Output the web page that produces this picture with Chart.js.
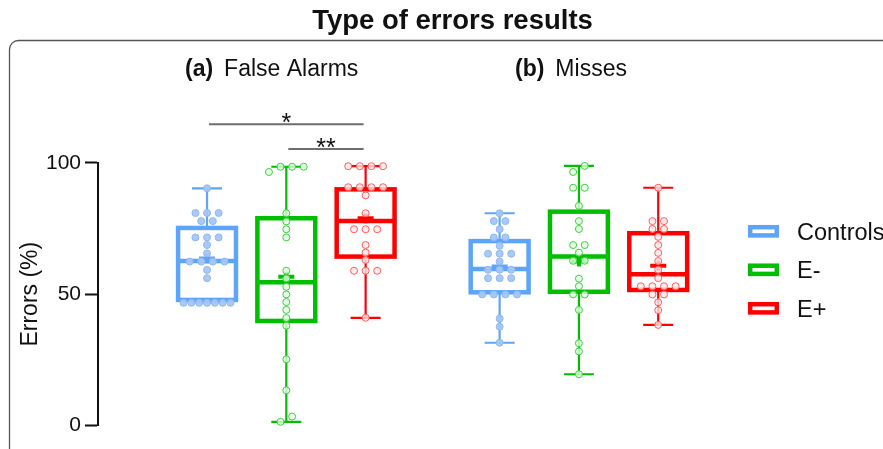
<!DOCTYPE html>
<html>
<head>
<meta charset="utf-8">
<title>Type of errors results</title>
<script src="https://cdn.jsdelivr.net/npm/chart.js@4.4.1/dist/chart.umd.min.js"></script>
<style>
  html, body { margin: 0; padding: 0; background: #ffffff; }
  #chart { display: block; }
</style>
</head>
<body>
<canvas id="chart" width="883" height="449"></canvas>
<script>
// ---- data ----
const groups = ['Controls', 'E-', 'E+'];
const panels = ['False Alarms', 'Misses'];
const panelTags = ['(a)', '(b)'];
const yTicks = [0, 50, 100];

// individual subjects (% errors)
const falseAlarmsControls = [90.3, 80.9, 80.9, 80.9, 77.8, 77.8, 71.6, 71.6, 71.6, 68.7, 65.5, 62.4, 62.4, 62.4, 62.4, 59.2, 56.1, 46.7, 46.7, 46.7, 46.7, 46.7, 46.7, 46.7];
const falseAlarmsEminus = [98.5, 96.5, 98.5, 98.5, 80.8, 77.7, 74.7, 71.6, 58.9, 56.0, 52.8, 49.9, 47.0, 44.0, 40.9, 38.0, 25.2, 13.4, 3.4, 1.4];
const falseAlarmsEplus = [98.7, 98.7, 98.7, 98.7, 90.7, 90.7, 90.7, 90.7, 87.6, 80.8, 74.7, 74.7, 74.7, 68.7, 65.8, 63.0, 58.9, 58.9, 58.9, 41.0];
const missesControls = [80.8, 77.8, 77.8, 74.7, 71.6, 71.6, 68.4, 65.4, 65.4, 65.4, 62.4, 59.3, 59.3, 59.3, 56.1, 56.1, 56.1, 49.9, 49.9, 49.9, 49.9, 40.7, 37.6, 31.5];
const missesEminus = [98.8, 96.5, 90.5, 90.5, 83.6, 77.8, 74.8, 68.7, 68.7, 65.8, 62.7, 62.7, 55.9, 53.0, 49.9, 49.9, 44.0, 31.3, 28.2, 19.5];
const missesEplus = [90.5, 77.8, 77.8, 74.8, 74.8, 71.8, 68.7, 65.7, 62.6, 59.3, 56.1, 53.0, 53.0, 53.0, 53.0, 49.9, 49.9, 46.9, 43.9, 38.3];

// box summaries, order: FA Controls, FA E-, FA E+, Misses Controls, Misses E-, Misses E+
const boxQ1 = [47.8, 39.8, 64.3, 50.7, 50.9, 51.6];
const boxMedian = [62.6, 54.5, 77.8, 59.6, 64.3, 57.6];
const boxQ3 = [75.2, 78.9, 89.9, 70.2, 81.4, 73.2];
const boxMean = [63.6, 56.6, 78.9, 60.5, 62.4, 60.8];
const whiskerLow = [47.0, 1.4, 41.0, 31.5, 19.5, 38.3];
const whiskerHigh = [90.3, 98.5, 98.7, 80.8, 98.8, 90.5];

// significance bars (False Alarms panel)
const sigPairs = [[0, 2], [1, 2]];
const sigLabels = ['*', '**'];
const sigLevels = [114.7, 105.3];

document.addEventListener('DOMContentLoaded', function () {

    /* ---- layout / style ---- */
    const FONT = '"Liberation Sans", Arial, Helvetica, sans-serif';
    const INK = '#111111';
    const boxColors = ['#5DA5FA', '#00BE00', '#FF0000'];
    const pointFill = ['rgba(165,198,245,0.95)', 'rgba(225,255,225,0.8)', 'rgba(255,230,230,0.8)'];
    const pointEdge = ['#8DB8F2', '#3CCF3C', '#FF5C5C'];
    const xPos = [0, 1, 2, 3.69, 4.69, 5.69];   // box centres in x units
    const UNIT_PX = 79.3;                       // one x unit in pixels
    const BOX_HALF = 0.365;
    const CAP_PX = 15;
    const panelLabelX = [185, 515];

    const allValues = [falseAlarmsControls, falseAlarmsEminus, falseAlarmsEplus, missesControls, missesEminus, missesEplus];

    // beeswarm: values closer than 2.5 % share a row and get spread sideways
    const swarm = (values, centre) => {
        const sorted = values.slice().sort((a, b) => a - b);
        const rows = [];
        sorted.forEach(v => {
            const row = rows[rows.length - 1];
            if (row && v - row[0] < 2.5) row.push(v);
            else rows.push([v]);
        });
        const pts = [];
        rows.forEach(row => {
            const n = row.length;
            const step = n > 1 ? Math.min(11.6, 47 / (n - 1)) : 0;
            row.forEach((v, i) => {
                pts.push({ x: centre + ((i - (n - 1) / 2) * step) / UNIT_PX, y: v });
            });
        });
        return pts;
    };

    const datasets = allValues.map((vals, k) => ({
        label: panels[Math.floor(k / 3)] + ' ' + groups[k % 3],
        data: swarm(vals, xPos[k]),
        pointRadius: 3.5,
        pointHoverRadius: 3.5,
        pointBorderWidth: 1,
        pointBackgroundColor: pointFill[k % 3],
        pointBorderColor: pointEdge[k % 3],
        showLine: false,
        clip: false
    }));

    /* ---- custom drawing: frame, boxes, annotations, legend ---- */
    const boxPlugin = {
        id: 'boxPlugin',
        beforeDraw(chart) {
            // rounded frame, clipped by the canvas on the right and bottom
            const ctx = chart.ctx;
            const x = 9.5, y = 40.5, r = 9;
            ctx.save();
            ctx.strokeStyle = '#555555';
            ctx.lineWidth = 1.3;
            ctx.beginPath();
            ctx.moveTo(x, 460);
            ctx.lineTo(x, y + r);
            ctx.arcTo(x, y, x + r, y, r);
            ctx.lineTo(900, y);
            ctx.stroke();
            ctx.restore();
        },
        beforeDatasetsDraw(chart) {
            const ctx = chart.ctx;
            const xs = chart.scales.x;
            const ys = chart.scales.y;
            ctx.save();
            xPos.forEach((p, k) => {
                const col = boxColors[k % 3];
                const cx = xs.getPixelForValue(p);
                const left = xs.getPixelForValue(p - BOX_HALF);
                const right = xs.getPixelForValue(p + BOX_HALF);
                const yQ1 = ys.getPixelForValue(boxQ1[k]);
                const yQ3 = ys.getPixelForValue(boxQ3[k]);
                const yMed = ys.getPixelForValue(boxMedian[k]);
                const yLo = ys.getPixelForValue(whiskerLow[k]);
                const yHi = ys.getPixelForValue(whiskerHigh[k]);
                const yMean = ys.getPixelForValue(boxMean[k]);
                ctx.strokeStyle = col;

                // whiskers + caps
                ctx.lineWidth = 2.2;
                ctx.beginPath();
                ctx.moveTo(cx, yQ3); ctx.lineTo(cx, yHi);
                ctx.moveTo(cx - CAP_PX, yHi); ctx.lineTo(cx + CAP_PX, yHi);
                ctx.moveTo(cx, yQ1); ctx.lineTo(cx, yLo);
                ctx.moveTo(cx - CAP_PX, yLo); ctx.lineTo(cx + CAP_PX, yLo);
                ctx.stroke();

                // box
                ctx.lineWidth = 4.5;
                ctx.strokeRect(left, yQ3, right - left, yQ1 - yQ3);

                // median
                ctx.beginPath();
                ctx.moveTo(left, yMed); ctx.lineTo(right, yMed);
                ctx.stroke();

                // mean (+)
                ctx.lineWidth = 4;
                ctx.beginPath();
                ctx.moveTo(cx - 8, yMean); ctx.lineTo(cx + 8, yMean);
                ctx.moveTo(cx, yMean - 5); ctx.lineTo(cx, yMean + 5);
                ctx.stroke();
            });

            // significance bars
            ctx.strokeStyle = '#6E6E6E';
            ctx.fillStyle = INK;
            ctx.lineWidth = 2;
            ctx.font = '25px ' + FONT;
            ctx.textAlign = 'center';
            ctx.textBaseline = 'alphabetic';
            sigPairs.forEach((pair, i) => {
                const x1 = xs.getPixelForValue(xPos[pair[0]]) + 2;
                const x2 = xs.getPixelForValue(xPos[pair[1]]) - 2;
                const y = ys.getPixelForValue(sigLevels[i]);
                ctx.beginPath();
                ctx.moveTo(x1, y); ctx.lineTo(x2, y);
                ctx.stroke();
                ctx.fillText(sigLabels[i], (x1 + x2) / 2, y + 7);
            });
            ctx.restore();
        },
        afterDraw(chart) {
            const ctx = chart.ctx;
            ctx.save();
            ctx.fillStyle = INK;
            ctx.textBaseline = 'alphabetic';

            // main title
            ctx.font = 'bold 27.5px ' + FONT;
            ctx.textAlign = 'center';
            ctx.fillText('Type of errors results', 452.5, 29);

            // panel titles
            ctx.textAlign = 'left';
            panels.forEach((name, i) => {
                const start = panelLabelX[i];
                ctx.font = 'bold 23px ' + FONT;
                ctx.fillText(panelTags[i], start, 76);
                const w = ctx.measureText(panelTags[i]).width;
                ctx.font = '23px ' + FONT;
                ctx.fillText(name, start + w + 11, 76);
            });

            // legend
            groups.forEach((g, i) => {
                const cy = 231.3 + i * 38.5;
                ctx.strokeStyle = boxColors[i];
                ctx.lineWidth = 4.5;
                ctx.strokeRect(750.2, cy - 4.1, 26.6, 8.2);
                ctx.font = '23.5px ' + FONT;
                ctx.fillText(g, 797, cy + 8.3);
            });
            ctx.restore();
        }
    };

    new Chart(document.getElementById('chart').getContext('2d'), {
        type: 'scatter',
        data: { datasets: datasets },
        plugins: [boxPlugin],
        options: {
            responsive: false,
            animation: false,
            devicePixelRatio: 1,
            layout: { padding: { top: 162.8, bottom: 23.5, left: 0, right: 120.9 } },
            plugins: { legend: { display: false }, tooltip: { enabled: false }, title: { display: false } },
            scales: {
                x: { type: 'linear', display: false, min: -1.375, max: 7.0 },
                y: {
                    min: 0, max: 100,
                    afterBuildTicks: s => { s.ticks = yTicks.map(v => ({ value: v })); },
                    ticks: { font: { family: FONT, size: 21 }, color: INK, padding: 4 },
                    grid: { drawOnChartArea: false, drawTicks: true, tickLength: 13, tickWidth: 2, tickColor: INK },
                    border: { display: true, color: INK, width: 2 },
                    title: { display: true, text: 'Errors (%)', color: INK, font: { family: FONT, size: 23 }, padding: { top: 17, bottom: 0 } },
                    afterFit: s => { s.width = 98; }
                }
            }
        }
    });
});
</script>
</body>
</html>
